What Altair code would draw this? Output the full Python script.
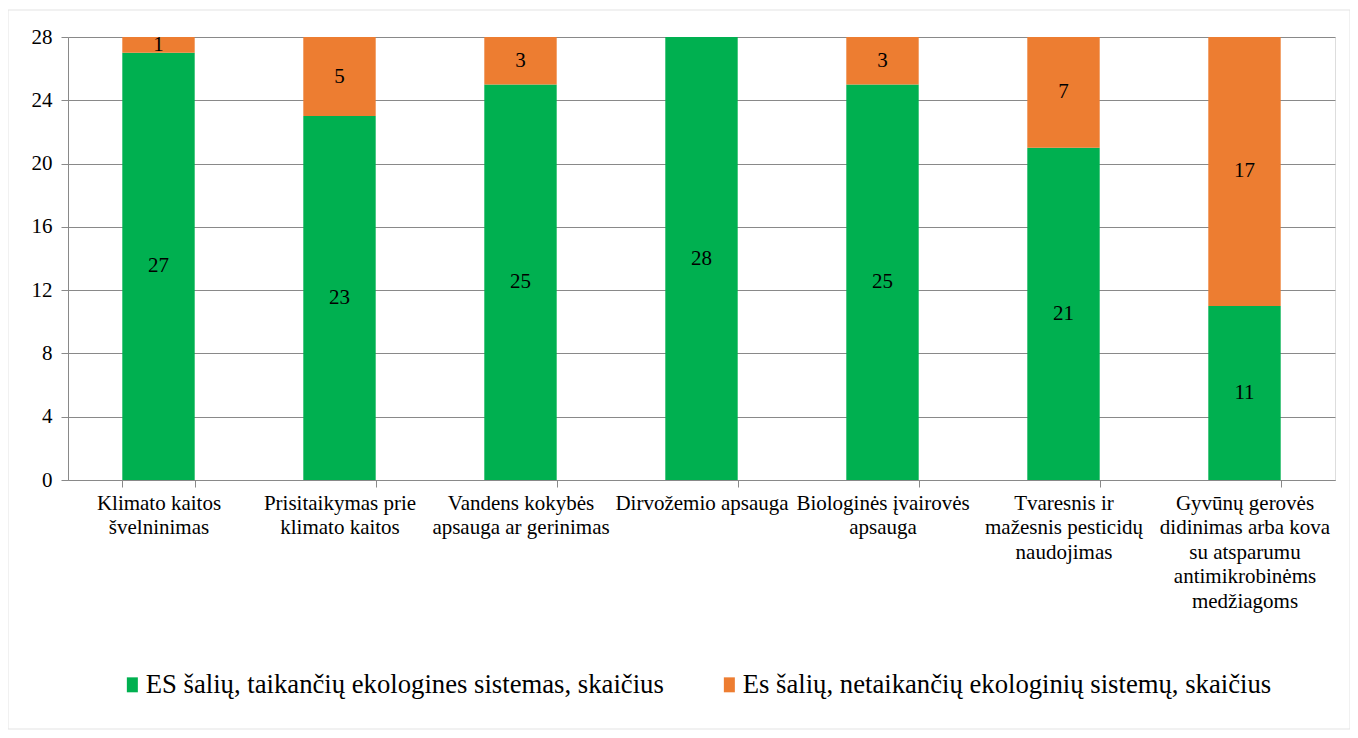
import altair as alt
import pandas as pd

categories = [
    "Klimato kaitos|švelninimas",
    "Prisitaikymas prie|klimato kaitos",
    "Vandens kokybės|apsauga ar gerinimas",
    "Dirvožemio apsauga",
    "Biologinės įvairovės|apsauga",
    "Tvaresnis ir|mažesnis pesticidų|naudojimas",
    "Gyvūnų gerovės|didinimas arba kova|su atsparumu|antimikrobinėms|medžiagoms",
]
green_vals = [27, 23, 25, 28, 25, 21, 11]
orange_vals = [1, 5, 3, 0, 3, 7, 17]
series = [
    "ES šalių, taikančių ekologines sistemas, skaičius",
    "Es šalių, netaikančių ekologinių sistemų, skaičius",
]
colors = ["#00B050", "#ED7D31"]
y_ticks = [0, 4, 8, 12, 16, 20, 24, 28]

rows = []
for i, c in enumerate(categories):
    rows.append(dict(cat=c, series=series[0], ord=0, value=green_vals[i]))
    rows.append(dict(cat=c, series=series[1], ord=1, value=orange_vals[i]))
df = pd.DataFrame(rows)

FONT = "Liberation Serif"
GRID = "#898989"

x_enc = alt.X(
    "cat:N",
    sort=categories,
    title=None,
    scale=alt.Scale(paddingInner=0.6, paddingOuter=0.3),
    axis=alt.Axis(
        labelExpr="split(datum.label, '|')",
        labelAngle=0,
        labelFontSize=21,
        labelLineHeight=24.5,
        labelColor="black",
        labelFont=FONT,
        labelLimit=400,
        labelOverlap=False,
        labelBaseline="top",
        labelPadding=5,
        tickBand="extent",
        tickSize=7,
        tickColor=GRID,
        domainColor=GRID,
        grid=False,
    ),
)

y_axis = alt.Axis(
    values=y_ticks,
    title=None,
    labelFontSize=21,
    labelFont=FONT,
    labelColor="black",
    labelPadding=9,
    tickSize=7,
    tickColor=GRID,
    domainColor=GRID,
    gridColor=GRID,
    grid=True,
)

border = alt.Chart(pd.DataFrame({"a": [0]})).mark_rect(
    fill=None, stroke="#e3e3e3", strokeWidth=1
).encode(
    x=alt.value(-60), x2=alt.value(1282), y=alt.value(-27), y2=alt.value(692)
)

bars = alt.Chart(df).mark_bar().encode(
    x=x_enc,
    y=alt.Y("value:Q", stack="zero", scale=alt.Scale(domain=[0, 28], nice=False), axis=y_axis),
    color=alt.Color(
        "series:N",
        scale=alt.Scale(domain=series, range=colors),
        legend=alt.Legend(
            orient="none",
            legendX=51,
            legendY=634,
            direction="horizontal",
            title=None,
            labelFontSize=26.7,
            labelFont=FONT,
            labelColor="black",
            symbolType="M-1,-1.36H1V1.36H-1Z",
            symbolSize=121,
            symbolStrokeWidth=0,
            columnPadding=52,
            labelOffset=0,
            labelLimit=800,
        ),
    ),
    order=alt.Order("ord:Q"),
)

labels = alt.Chart(df).transform_stack(
    stack="value", groupby=["cat"], sort=[alt.SortField("ord")], as_=["y0", "y1"]
).transform_calculate(
    mid="(datum.y0 + datum.y1) / 2"
).transform_filter(
    "datum.value > 0"
).mark_text(fontSize=21, font=FONT, color="black").encode(
    x=alt.X("cat:N", sort=categories),
    y=alt.Y("mid:Q"),
    text=alt.Text("value:Q"),
)

chart = alt.layer(border, bars, labels).properties(
    width=1267,
    height=443,
    autosize=alt.AutoSizeParams(type="none"),
    padding={"left": 60, "top": 29, "right": 15, "bottom": 250},
).configure_view(stroke=None).configure(background="white", font=FONT)

chart.save("out.html", embed_options={"renderer": "svg", "actions": False})
